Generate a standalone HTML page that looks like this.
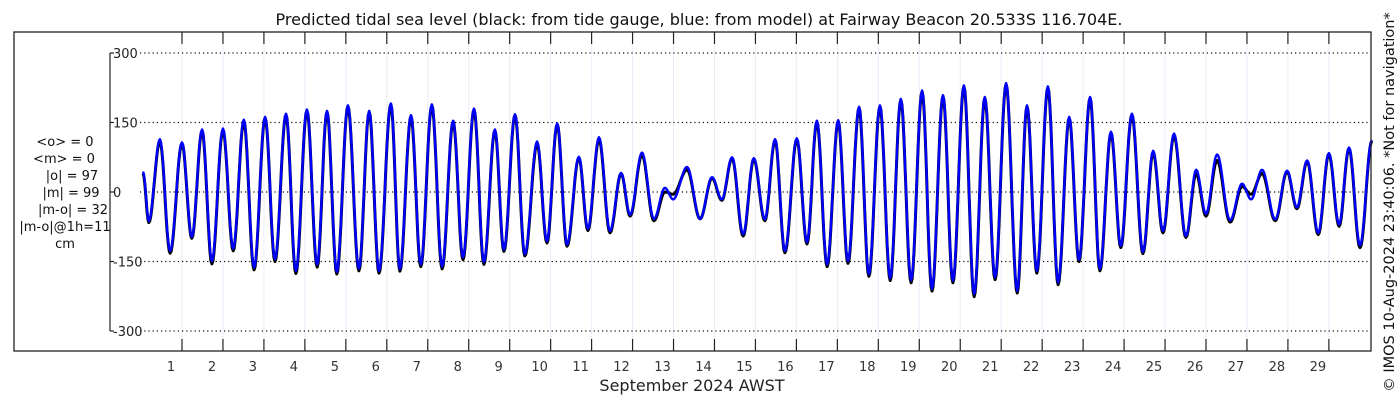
<!DOCTYPE html>
<html><head><meta charset="utf-8"><style>
body{margin:0;background:#fff;}
svg{display:block;font-family:"DejaVu Sans","Liberation Sans",sans-serif;}
</style></head><body>
<svg id="chart" width="1400" height="400" viewBox="0 0 1400 400" xmlns="http://www.w3.org/2000/svg">
<rect x="0" y="0" width="1400" height="400" fill="#fff"/>
<text x="699" y="25" font-size="16" text-anchor="middle" fill="#111">Predicted tidal sea level (black: from tide gauge, blue: from model) at Fairway Beacon 20.533S 116.704E.</text>
<g id="grid"></g>
<g id="series"></g>
<rect x="14" y="32" width="1357" height="319" fill="none" stroke="#222" stroke-width="1.3"/>
<g id="axes"></g>
<g font-size="13" fill="#111" text-anchor="middle">
<text x="65" y="146">&lt;o&gt; = 0</text>
<text x="64" y="163">&lt;m&gt; = 0</text>
<text x="72" y="180">|o| = 97</text>
<text x="71" y="197">|m| = 99</text>
<text x="73" y="214">|m-o| = 32</text>
<text x="65" y="231">|m-o|@1h=11</text>
<text x="65" y="248">cm</text>
</g>
<text x="692" y="391" font-size="16" text-anchor="middle" fill="#222">September 2024 AWST</text>
<text transform="translate(1394,202) rotate(-90)" font-size="14.5" text-anchor="middle" fill="#111">© IMOS 10-Aug-2024 23:40:06. *Not for navigation*</text>
</svg>
<script>
const yTicks=[-300,-150,0,150,300];
const dayLabels=[1,2,3,4,5,6,7,8,9,10,11,12,13,14,15,16,17,18,19,20,21,22,23,24,25,26,27,28,29];
const extremaTimes=[0.05,0.19,0.46,0.71,1.00,1.24,1.49,1.73,2.00,2.25,2.51,2.76,3.03,3.27,3.54,3.78,4.05,4.30,4.54,4.78,5.05,5.32,5.57,5.81,6.10,6.32,6.59,6.83,7.10,7.35,7.62,7.86,8.13,8.37,8.64,8.86,9.13,9.37,9.67,9.91,10.16,10.40,10.69,10.91,11.18,11.45,11.72,11.94,12.23,12.52,12.79,12.99,13.33,13.65,13.94,14.18,14.43,14.70,14.96,15.23,15.48,15.72,16.01,16.26,16.50,16.75,17.02,17.26,17.53,17.77,18.04,18.29,18.55,18.80,19.07,19.31,19.58,19.82,20.09,20.34,20.60,20.85,21.12,21.39,21.63,21.87,22.14,22.39,22.66,22.90,23.17,23.41,23.68,23.92,24.19,24.46,24.71,24.95,25.22,25.51,25.76,26.00,26.27,26.59,26.88,27.10,27.37,27.69,27.98,28.22,28.47,28.74,29.00,29.25,29.49,29.76,30.05];
const modelLevels=[44,-63,114,-127,107,-97,135,-149,137,-122,156,-163,162,-145,169,-170,178,-156,175,-172,187,-165,175,-170,191,-166,166,-156,189,-161,154,-141,180,-151,135,-124,168,-134,109,-106,148,-113,76,-79,118,-84,41,-49,85,-58,9,-16,54,-58,32,-16,75,-91,73,-59,114,-127,116,-108,154,-156,155,-149,184,-177,187,-186,201,-190,219,-209,209,-191,230,-220,205,-184,235,-213,187,-170,228,-195,162,-146,205,-166,130,-116,169,-129,89,-84,126,-95,48,-47,81,-61,18,-16,48,-59,46,-33,68,-88,84,-70,96,-115,112];
const gaugeLevels=[40,-66,110,-132,105,-100,132,-155,134,-127,153,-168,160,-150,167,-176,176,-162,173,-177,185,-170,173,-175,189,-171,164,-161,187,-166,152,-146,178,-156,133,-128,166,-138,105,-110,146,-117,74,-83,114,-88,40,-52,80,-62,0,-5,48,-58,30,-18,73,-95,71,-62,112,-131,114,-112,152,-161,153,-154,182,-182,185,-191,199,-196,217,-214,207,-196,228,-226,203,-189,233,-218,185,-175,226,-200,160,-150,203,-170,128,-120,167,-133,86,-88,122,-98,40,-52,68,-65,12,-5,40,-62,44,-36,66,-92,82,-74,94,-120,110];

const NS='http://www.w3.org/2000/svg';
const X0=182, DAYW=40.96, PL=112, PR=1371, PT=32, PB=351;
function xScale(t){return X0+(t-1)*DAYW;}
function yScale(v){return 192-v*0.4633;}
function mk(tag,attrs,parent){const e=document.createElementNS(NS,tag);for(const k in attrs)e.setAttribute(k,attrs[k]);parent.appendChild(e);return e;}
const grid=document.getElementById('grid'), axes=document.getElementById('axes'), series=document.getElementById('series');

for(let i=0;i<=dayLabels.length-1;i++){
  const x=xScale(dayLabels[i]);
  const g=mk('line',{x1:x,x2:x,y1:PT,y2:PB,stroke:'#d4daf4','stroke-width':1,'stroke-dasharray':'1,1'},grid);
  
  
  const t1=mk('line',{x1:x,x2:x,y1:PT,y2:PT+12,stroke:'#222','stroke-width':1.2},axes);
  
  
  const t2=mk('line',{x1:x,x2:x,y1:PB-12,y2:PB,stroke:'#222','stroke-width':1.2},axes);
  
  
  const lb=mk('text',{x:x-11,y:371,'font-size':13,'text-anchor':'middle',fill:'#333'},axes);
  
  
  lb.textContent=dayLabels[i];
}
const ya=mk('line',{x1:110,x2:110,y1:yScale(300),y2:yScale(-300),stroke:'#222','stroke-width':1.2},axes);


yTicks.forEach(v=>{
  const y=yScale(v);
  const gl=mk('line',{x1:PL+28,x2:PR,y1:y,y2:y,stroke:'#111','stroke-width':1.2,'stroke-dasharray':'1.2,3'},grid);
  
  
  const tk=mk('line',{x1:110,x2:114,y1:y,y2:y,stroke:'#222','stroke-width':1.2},axes);
  
  
  const lb=mk('text',{x:113,y:y+5,'font-size':13,fill:'#222'},axes);
  
  
  lb.textContent=v;
});

function curve(times,vals){
  const n=Math.min(times.length,vals.length);
  let d='';
  for(let i=0;i<n-1;i++){
    const t0=times[i],t1=times[i+1],a=vals[i],b=vals[i+1];
    const steps=Math.max(4,Math.round((xScale(t1)-xScale(t0))));
    for(let s=(i===0?0:1);s<=steps;s++){
      const f=s/steps;
      const t=t0+(t1-t0)*f;
      const v=a+(b-a)*(1-Math.cos(Math.PI*f))/2;
      d+=(d?'L':'M')+xScale(t).toFixed(1)+','+yScale(v).toFixed(1);
    }
  }
  return d;
}
const gp=mk('path',{d:curve(extremaTimes,gaugeLevels),fill:'none',stroke:'#000','stroke-width':3,'stroke-linejoin':'round'},series);


const mp=mk('path',{d:curve(extremaTimes,modelLevels),fill:'none',stroke:'#0000ff','stroke-width':2.4,'stroke-linejoin':'round'},series);


</script>
</body></html>
